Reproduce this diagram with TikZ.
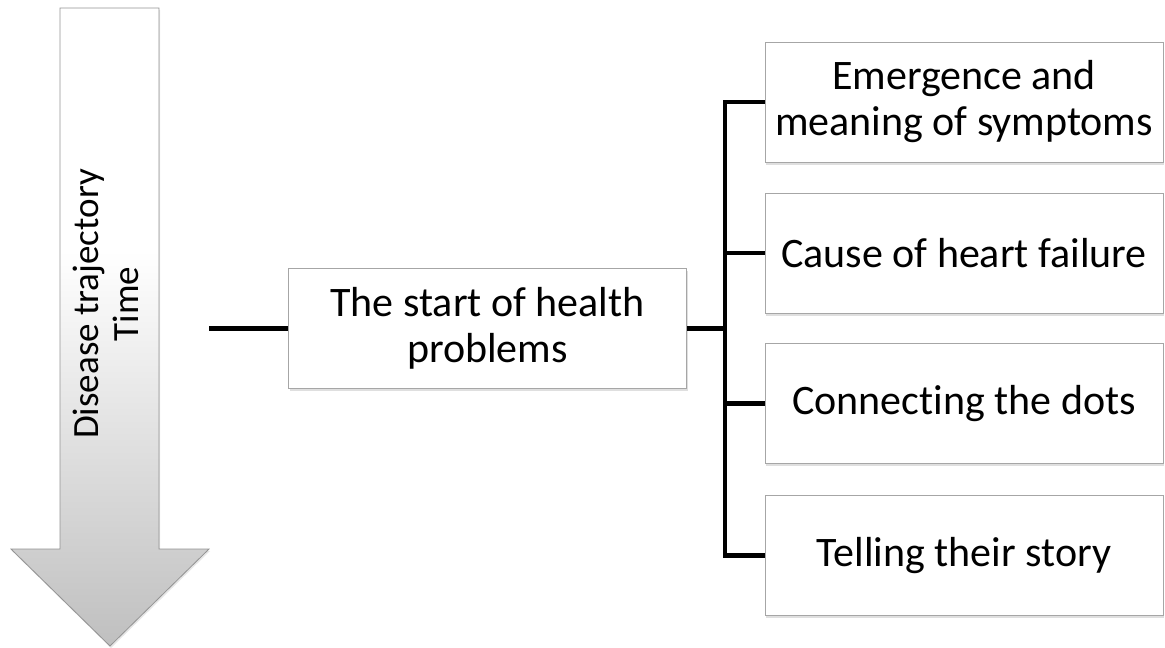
\documentclass[tikz,border=0pt]{standalone}
\usepackage{fontspec}
\setmainfont{Carlito}[Ligatures={NoCommon,NoContextual}]
\usetikzlibrary{shadows}
\pgfdeclareverticalshading{arrowshade}{100bp}{color(0bp)=(gray!50); color(25bp)=(gray!50); color(56bp)=(white); color(100bp)=(white)}
\begin{document}
\begin{tikzpicture}[x=1pt,y=-1pt,
  box/.style={draw=gray!70, line width=1pt, fill=white, minimum width=398pt, minimum height=120pt, inner sep=0pt, align=center, font=\fontsize{42}{46}\selectfont, drop shadow={shadow xshift=1pt, shadow yshift=-2.5pt, opacity=0.25}},
  conn/.style={line width=4.5pt, line join=miter, draw=black},
  arrowlabel/.style={rotate=90, align=center, inner sep=0pt, font=\fontsize{37}{40}\selectfont}]
\useasboundingbox (0,0) rectangle (1165,648);
% time arrow
\path[draw=gray!85, line width=0.8pt, shading=arrowshade, drop shadow={shadow xshift=1pt, shadow yshift=-2pt, opacity=0.2}]
  (60,8) -- (159,8) -- (159,549) -- (209,549) -- (110,646) -- (11,549) -- (60,549) -- cycle;
\node[arrowlabel] (arrowtext) at (106,304) {Disease trajectory\\Time};
% boxes
\node[box] (c) at (487.5,328.5) {The start of health\\problems};
\node[box] (b1) at (964,102) {Emergence and\\meaning of symptoms};
\node[box] (b2) at (964,253) {Cause of heart failure};
\node[box] (b3) at (964,403.5) {Connecting the dots};
\node[box] (b4) at (964,555.5) {Telling their story};
% connectors
\coordinate (l) at (209,328.5);
\coordinate (j) at (725,328.5);
\draw[conn] (l) -- (c.west);
\draw[conn] (c.east) -- (j);
\draw[conn] (b1.west) -- (b1.west -| j) -- (b4.west -| j) -- (b4.west);
\draw[conn] (b2.west) -- (b2.west -| j);
\draw[conn] (b3.west) -- (b3.west -| j);
\end{tikzpicture}
\end{document}
